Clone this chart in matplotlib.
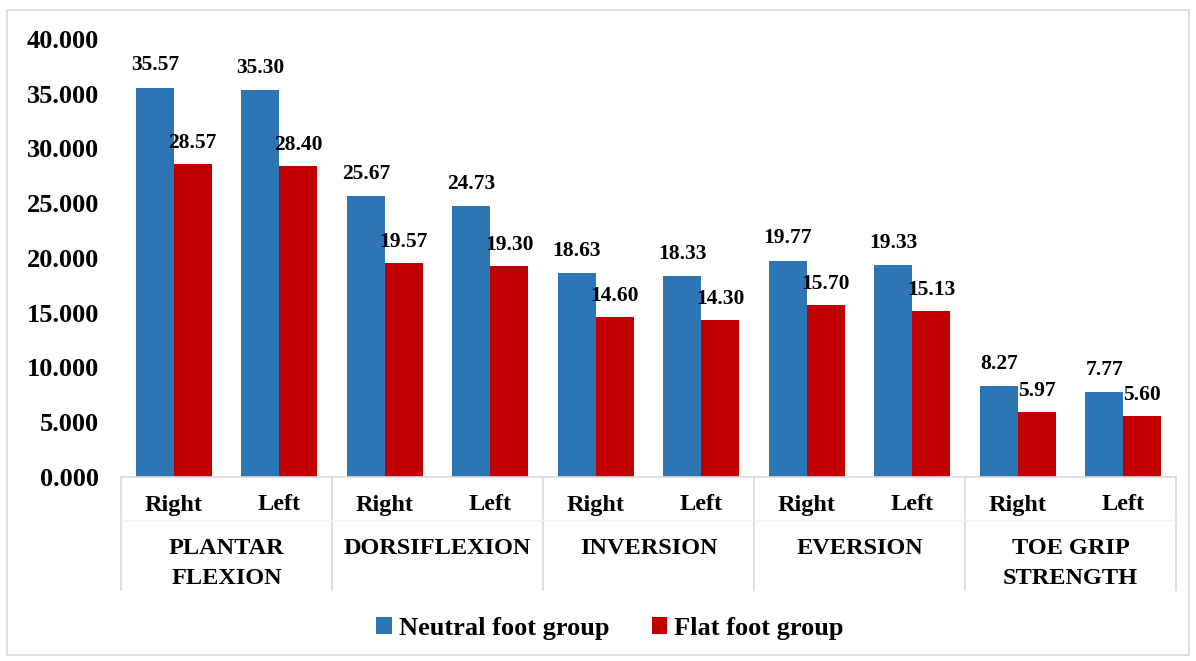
import numpy as np
import matplotlib.pyplot as plt
import matplotlib.transforms as mtransforms
from matplotlib.patches import Rectangle

groups = ["PLANTAR\nFLEXION", "DORSIFLEXION", "INVERSION", "EVERSION", "TOE GRIP\nSTRENGTH"]
sides = ["Right", "Left"]
neutral = [35.57, 35.30, 25.67, 24.73, 18.63, 18.33, 19.77, 19.33, 8.27, 7.77]
flat = [28.57, 28.40, 19.57, 19.30, 14.60, 14.30, 15.70, 15.13, 5.97, 5.60]
series_names = ["Neutral foot group", "Flat foot group"]
yticks = [0, 5, 10, 15, 20, 25, 30, 35, 40]

blue = "#2E75B6"
red = "#C00000"
grey = "#D9D9D9"

plt.rcParams['font.family'] = ['Liberation Serif', 'DejaVu Serif']
plt.rcParams['font.weight'] = 'bold'

fig = plt.figure(figsize=(11.96, 6.61), dpi=100)
ax = fig.add_axes([121/1196, 184/661, 1055/1196, 438/661])

# figure border
fig.patches.append(Rectangle((7/1196, 6/661), 1182/1196, 645/661, transform=fig.transFigure,
                             fill=False, edgecolor=grey, linewidth=1.2))

n = len(neutral)
x = np.arange(n)
w = 0.36
b1 = ax.bar(x - w/2, neutral, w, color=blue, label=series_names[0])
b2 = ax.bar(x + w/2, flat, w, color=red, label=series_names[1])

for xi, v in zip(x, neutral):
    ax.text(xi - w/2, v + 1.1, "%.2f" % v, ha='center', va='bottom', fontsize=15.5, fontweight='bold')
for xi, v in zip(x, flat):
    ax.text(xi + w/2, v + 1.0, "%.2f" % v, ha='center', va='bottom', fontsize=15.5, fontweight='bold')

ax.set_xlim(-0.5, n - 0.5)
ax.set_ylim(0, 40)
ax.set_yticks(yticks)
ax.set_yticklabels(["%.3f" % t for t in yticks], fontsize=19, fontweight='bold')
ax.tick_params(axis='y', length=0, pad=16)
ax.set_xticks([])
for s in ['top', 'right', 'left']:
    ax.spines[s].set_visible(False)
ax.spines['bottom'].set_color(grey)
ax.spines['bottom'].set_linewidth(1.2)

# multi-level category axis
trans = mtransforms.blended_transform_factory(ax.transData, ax.transAxes)
px = 1/438.0
for i in range(n):
    ax.text(x[i], -28*px, sides[i % 2], transform=trans, ha='center', va='center',
            fontsize=17.5, fontweight='bold')
for g, name in enumerate(groups):
    ax.text(2*g + 0.5, -61*px, name, transform=trans, ha='center', va='top',
            fontsize=17.5, fontweight='bold', linespacing=1.55)
for g in range(len(groups) + 1):
    ax.plot([2*g - 0.5, 2*g - 0.5], [0, -113*px], transform=trans, color=grey,
            linewidth=1.2, clip_on=False)
ax.plot([-0.5, n - 0.5], [-43*px, -43*px], transform=trans, color="#F2F2F2",
        linewidth=1, clip_on=False)

ax.legend(handles=[b1, b2], loc='center', bbox_to_anchor=(610/1196, 1 - 628/661),
          bbox_transform=fig.transFigure, ncol=2, frameon=False,
          prop={'size': 19, 'weight': 'bold'}, handlelength=0.6, handleheight=0.6,
          handletextpad=0.25, columnspacing=1.6)

fig.savefig("out.png", dpi=100)
